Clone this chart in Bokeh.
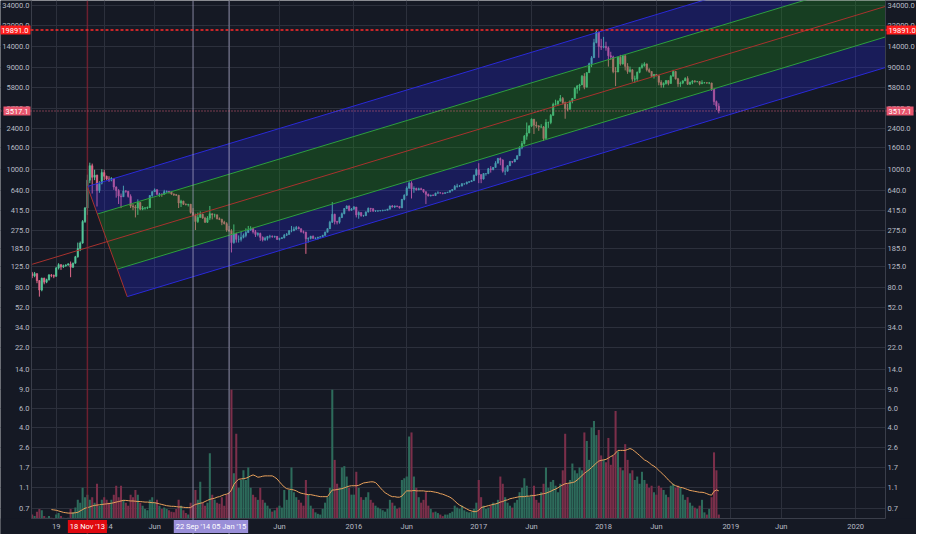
import numpy as np
import pandas as pd
from bokeh.plotting import figure
from bokeh.models import (ColumnDataSource, FixedTicker, PrintfTickFormatter, LogAxis,
                          Span, Label, Range1d, BoxAnnotation)
from bokeh.embed import file_html
from bokeh.resources import INLINE

nan = float("nan")

# ---------------- data (weekly bars, BTCUSD) ----------------
FIRST_WEEK = "2013-06-10"
FIRST_OPEN = 108.0

close_2013 = [103, 108, 93, 76, 98, 90, 95, 105, 104, 102, 122, 131, 125, 128, 130, 133, 124, 135, 155, 185,
              208, 330, 440, 800, 1090, 850, 890, 640, 750, 940]
high_2013 = [112, 112, 109, 94, 99, 99, 97, 107, 107, 106, 125, 135, 132, 131, 132, 135, 140, 137, 158, 210,
             215, 340, 450, 900, 1163, 1140, 1000, 900, 780, 1010]
low_2013 = [98, 100, 88, 66, 74, 86, 88, 93, 100, 98, 101, 118, 117, 122, 125, 128, 100, 122, 134, 152,
            175, 205, 320, 380, 750, 600, 800, 455, 610, 730]

close_2014 = [870, 820, 800, 830, 690, 640, 570, 560, 635, 630, 565, 460, 450, 440, 495, 430, 440,
              440, 445, 575, 625, 650, 590, 595, 590, 625, 630, 620, 595, 585, 580, 490, 510, 478,
              475, 478, 400, 375, 330, 360, 385, 355, 325, 355, 390, 380, 380, 350, 345, 325, 315, 275]
high_2014 = [1000, 880, 870, 850, 830, 700, 660, 600, 710, 645, 630, 590, 480, 470, 530, 500, 460,
             450, 455, 580, 630, 670, 660, 610, 600, 650, 640, 630, 625, 600, 595, 580, 525, 515,
             485, 480, 480, 440, 390, 400, 410, 390, 365, 370, 460, 390, 390, 385, 360, 350, 335, 325]
low_2014 = [800, 800, 770, 780, 650, 550, 480, 440, 560, 610, 550, 440, 420, 360, 380, 420, 420,
            425, 430, 440, 560, 620, 585, 560, 560, 590, 610, 600, 585, 570, 570, 440, 450, 470,
            465, 455, 390, 370, 275, 320, 370, 350, 320, 320, 340, 345, 360, 345, 340, 305, 310, 265]

close_2015 = [270, 210, 255, 225, 225, 235, 245, 260, 275, 285, 265, 250, 255, 235, 223, 230, 240,
              240, 238, 240, 225, 229, 233, 246, 250, 270, 270, 280, 290, 282, 265, 262, 228, 230, 240,
              230, 230, 235, 238, 245, 262, 283, 325, 385, 330, 325, 360, 390, 435, 460, 420, 430]
high_2015 = [300, 280, 310, 260, 245, 265, 255, 285, 300, 298, 290, 275, 262, 260, 240, 238, 242,
             248, 245, 243, 240, 233, 236, 253, 258, 275, 300, 295, 300, 297, 285, 272, 265, 235, 243,
             245, 235, 238, 240, 248, 266, 285, 335, 500, 390, 335, 365, 400, 440, 465, 465, 440]
low_2015 = [265, 170, 205, 210, 210, 215, 230, 235, 260, 270, 255, 237, 240, 218, 215, 218, 220,
            230, 233, 233, 222, 220, 227, 230, 242, 250, 262, 270, 276, 280, 260, 255, 165, 210, 225,
            228, 225, 225, 235, 235, 245, 262, 280, 320, 310, 310, 315, 355, 385, 430, 410, 415]

close_2016 = [450, 380, 400, 375, 375, 405, 438, 433, 413, 415, 415, 417, 420, 420, 430, 460, 450,
              460, 456, 442, 530, 580, 675, 750, 660, 670, 650, 665, 655, 625, 590, 570, 580, 575, 605,
              610, 608, 602, 612, 618, 640, 655, 700, 705, 705, 740, 740, 765, 775, 790, 890, 1000]
high_2016 = [460, 450, 410, 400, 380, 410, 445, 440, 440, 420, 420, 420, 424, 424, 432, 465, 470,
             465, 462, 458, 535, 590, 700, 780, 780, 700, 680, 680, 680, 660, 625, 600, 585, 590, 612,
             630, 615, 610, 615, 622, 645, 660, 720, 740, 720, 750, 745, 775, 780, 800, 900, 1030]
low_2016 = [425, 360, 350, 365, 365, 370, 400, 405, 405, 405, 405, 410, 410, 415, 420, 428, 445,
            440, 448, 435, 440, 520, 570, 660, 540, 610, 640, 645, 650, 610, 480, 565, 565, 570, 570,
            600, 600, 590, 600, 608, 615, 630, 655, 680, 690, 700, 725, 730, 755, 770, 790, 880]

close_2017 = [900, 820, 920, 920, 1020, 1000, 1050, 1150, 1270, 1230, 970, 970, 1090, 1190, 1180, 1250,
              1350, 1600, 1750, 2050, 2200, 2550, 2950, 2600, 2550, 2500, 2500, 1950, 2750, 2750, 3200,
              4050, 4100, 4350, 4600, 4200, 3700, 3650, 4350, 4600, 5700, 6000, 6150, 7400, 5850, 8000,
              9700, 11000, 15200, 19100, 14000, 13800]
high_2017 = [1150, 910, 930, 930, 1040, 1080, 1060, 1200, 1290, 1300, 1250, 1050, 1100, 1210, 1200, 1260,
             1360, 1650, 1850, 2100, 2750, 2600, 3000, 2950, 2800, 2600, 2650, 2550, 2950, 2800, 3300,
             4200, 4480, 4400, 4950, 4750, 4300, 4100, 4400, 4650, 5850, 6150, 6300, 7600, 7900, 8100,
             9900, 11400, 16500, 19891, 19100, 16500]
low_2017 = [750, 750, 810, 880, 910, 940, 990, 1050, 1150, 1100, 940, 890, 960, 1080, 1150, 1180,
            1240, 1340, 1550, 1720, 1900, 2180, 2500, 2150, 2450, 2300, 2450, 1850, 1950, 2450, 2650,
            3200, 3950, 3950, 4300, 4050, 2980, 3500, 3650, 4150, 4600, 5100, 5450, 6150, 5600, 5850,
            8000, 9000, 11000, 15000, 11000, 13000]

close_2018 = [14000, 13600, 11500, 11200, 8200, 8100, 11100, 9650, 11500, 9150, 8200, 8500, 6950,
              7000, 8050, 8950, 9300, 9650, 8500, 8200, 7350, 7700, 7500, 6500, 6150, 6350,
              6750, 6350, 7400, 8200, 7000, 6300, 6400, 6700, 7050, 6250, 6500, 6700, 6600,
              6600, 6300, 6450, 6450, 6400, 6400, 5600, 4300, 3900, 3517.1]
high_2018 = [17200, 15500, 14000, 12500, 11500, 9000, 11300, 11700, 11700, 11600, 9800, 9100, 8600,
             7500, 8200, 9000, 9750, 9990, 9700, 8800, 8200, 7750, 7750, 7500, 6800, 6500,
             6800, 6750, 7600, 8500, 8250, 7150, 6600, 6800, 7250, 7400, 6600, 6800, 6800,
             6700, 6650, 6800, 6550, 6500, 6550, 6450, 5600, 4400, 4150]
low_2018 = [13500, 12800, 9100, 10500, 7900, 6000, 8100, 9300, 9500, 8400, 7800, 8000, 6600,
            6450, 6700, 7900, 8700, 9100, 8200, 7950, 7300, 7050, 7400, 6100, 5800, 5800,
            6200, 6100, 6300, 7400, 6900, 5900, 5900, 6250, 6700, 6150, 6150, 6250, 6450,
            6500, 6100, 6400, 6350, 6300, 6250, 5400, 4000, 3600, 3350]

# volume (read against the price scale of the chart)
vol_2013 = [0.62, 0.6, 0.66, 0.7, 0.68, 0.6, 0.58, 0.6, 0.58, 0.56, 0.62, 0.64, 0.6, 0.58, 0.57, 0.58,
            0.7, 0.65, 0.72, 0.85, 0.8, 1.1, 0.9, 0.95, 0.85, 0.9, 0.8, 1.2, 0.75, 0.85]
vol_2014 = [0.9, 0.85, 0.8, 0.85, 0.95, 1.15, 0.9, 1.15, 0.85, 0.8, 0.75, 0.95, 0.9, 1.05, 0.95, 0.8, 0.75,
            0.7, 0.68, 0.85, 0.9, 0.8, 0.85, 0.75, 0.7, 0.72, 0.7, 0.68, 0.66, 0.65, 0.7, 0.85, 0.75, 0.68,
            0.64, 0.62, 0.8, 0.75, 1.05, 0.85, 1.25, 0.8, 0.75, 0.8, 2.3, 0.95, 0.85, 0.8, 0.78, 0.9, 0.75, 0.95]
vol_2015 = [1.0, 9.0, 1.5, 3.5, 1.1, 1.3, 1.6, 1.3, 1.7, 1.1, 0.95, 0.9, 0.85, 1.1, 0.85, 0.8, 0.75,
            0.7, 0.66, 0.68, 0.72, 0.75, 0.72, 1.05, 0.85, 1.05, 1.7, 1.0, 0.9, 0.85, 0.8, 0.75, 1.3, 0.95, 0.75,
            0.7, 0.65, 0.63, 0.62, 0.7, 0.8, 0.9, 1.1, 9.0, 2.0, 1.2, 1.1, 1.7, 1.75, 1.4, 1.1, 0.95]
vol_2016 = [0.95, 1.55, 1.1, 0.9, 0.85, 0.9, 1.0, 0.85, 0.8, 0.75, 0.72, 0.7, 0.68, 0.66, 0.7, 0.85, 0.8,
            0.75, 0.7, 0.72, 1.3, 1.35, 1.4, 3.3, 3.6, 1.4, 1.1, 0.9, 0.8, 0.85, 1.0, 0.75, 0.7, 0.65, 0.66,
            0.64, 0.62, 0.6, 0.62, 0.62, 0.64, 0.66, 0.75, 0.72, 0.7, 0.75, 0.68, 0.66, 0.65, 0.66, 0.7, 0.8]
vol_2017 = [1.3, 0.9, 0.75, 0.7, 0.72, 0.75, 0.8, 0.78, 0.85, 1.4, 1.2, 0.9, 0.8, 0.75, 0.72, 0.8, 0.85,
            1.0, 1.1, 1.35, 1.15, 0.9, 0.95, 1.15, 0.85, 0.8, 1.0, 1.2, 1.7, 1.1, 1.25, 1.3, 1.15, 1.0, 1.2,
            1.6, 3.5, 1.2, 1.3, 1.85, 1.6, 1.5, 1.7, 1.6, 3.6, 3.0, 2.0, 4.0, 4.6, 3.4, 3.8, 2.2]
vol_2018 = [2.0, 1.9, 3.2, 1.8, 2.2, 5.7, 2.4, 1.7, 1.6, 2.8, 2.0, 1.5, 1.6, 1.3, 1.4, 1.2, 1.55, 1.3,
            1.2, 1.1, 1.15, 1.0, 0.95, 1.15, 1.1, 1.05, 0.95, 0.9, 1.15, 1.2, 1.1, 1.15, 1.1, 0.95, 0.85,
            0.9, 0.8, 0.75, 0.72, 0.7, 0.75, 0.85, 0.65, 0.62, 0.7, 0.9, 2.35, 1.6, 0.62]

# volume moving average (orange line)
vma_2013 = [nan, nan, nan, nan, nan, nan, nan, nan, 0.69, 0.685, 0.68, 0.67, 0.66, 0.65, 0.645, 0.64,
            0.64, 0.64, 0.645, 0.65, 0.67, 0.69, 0.71, 0.72, 0.73, 0.745, 0.755, 0.76, 0.765, 0.77]
vma_2014 = [0.775, 0.78, 0.785, 0.79, 0.80, 0.81, 0.82, 0.83, 0.84, 0.84, 0.835, 0.83, 0.83, 0.825, 0.82,
            0.82, 0.815, 0.81, 0.81, 0.805, 0.80, 0.80, 0.79, 0.78, 0.77, 0.76, 0.75, 0.745, 0.74, 0.74,
            0.735, 0.73, 0.73, 0.725, 0.72, 0.72, 0.72, 0.75, 0.77, 0.78, 0.79, 0.80, 0.82, 0.84, 0.86,
            0.87, 0.88, 0.90, 0.91, 0.93, 0.95, 0.96]
vma_2015 = [0.98, 1.05, 1.18, 1.26, 1.32, 1.33, 1.34, 1.35, 1.38, 1.42, 1.45, 1.42, 1.38, 1.39, 1.41,
            1.42, 1.42, 1.42, 1.42, 1.38, 1.33, 1.25, 1.18, 1.12, 1.08, 1.07, 1.06, 1.05, 1.03, 1.0, 0.98,
            0.97, 0.96, 0.95, 0.95, 0.94, 0.93, 0.92, 0.91, 0.91, 0.91, 0.91, 0.98, 1.05, 1.05, 1.06,
            1.07, 1.08, 1.1, 1.12, 1.14, 1.15]
vma_2016 = [1.15, 1.15, 1.16, 1.19, 1.22, 1.23, 1.24, 1.25, 1.25, 1.23, 1.17, 1.1, 1.04, 0.99, 0.96,
            0.93, 0.91, 0.91, 0.90, 0.90, 0.92, 0.98, 1.03, 1.03, 1.03, 1.04, 1.03, 1.03, 1.03, 1.03,
            1.02, 1.02, 1.02, 1.01, 1.0, 0.99, 0.97, 0.96, 0.94, 0.92, 0.9, 0.87, 0.83, 0.79, 0.76,
            0.74, 0.72, 0.70, 0.68, 0.67, 0.66, 0.66]
vma_2017 = [0.68, 0.72, 0.73, 0.74, 0.75, 0.76, 0.77, 0.78, 0.79, 0.81, 0.82, 0.84, 0.85, 0.87, 0.88,
            0.89, 0.90, 0.91, 0.91, 0.91, 0.92, 0.92, 0.93, 0.93, 0.94, 0.95, 0.96, 0.97, 0.98, 1.0,
            1.02, 1.05, 1.07, 1.1, 1.14, 1.17, 1.2, 1.21, 1.22, 1.23, 1.25, 1.3, 1.36, 1.43, 1.5, 1.56,
            1.62, 1.7, 1.78, 1.87, 1.95, 1.98]
vma_2018 = [2.0, 2.02, 2.08, 2.15, 2.2, 2.32, 2.45, 2.45, 2.45, 2.45, 2.5, 2.55, 2.5, 2.4, 2.3, 2.2,
            2.1, 2.0, 1.95, 1.88, 1.8, 1.75, 1.68, 1.6, 1.52, 1.45, 1.38, 1.3, 1.24, 1.18, 1.15, 1.13,
            1.11, 1.1, 1.08, 1.06, 1.04, 1.03, 1.02, 1.01, 1.0, 1.0, 0.99, 0.97, 0.95, 0.94, 1.02, 1.05, 1.03]

# axes
x_tick_dates = ["2013-08-19", "2014-01-06", "2014-06-02", "2015-01-05", "2015-06-01", "2016-01-04",
                "2016-06-06", "2017-01-02", "2017-06-05", "2018-01-01", "2018-06-04", "2019-01-07",
                "2019-06-03", "2020-01-06"]
x_tick_labels = ["19", "2014", "Jun", "2015", "Jun", "2016", "Jun", "2017", "Jun", "2018", "Jun", "2019",
                 "Jun", "2020"]
y_ticks = [0.7, 1.1, 1.7, 2.6, 4.0, 6.0, 9.0, 14, 22, 34, 52, 80, 125, 185, 275, 415, 640, 1000, 1600,
           2400, 3700, 5800, 9000, 14000, 22000, 34000]
X_START, X_END = "2013-06-08", "2020-04-02"
Y_MIN, Y_MAX = 0.57, 37500

# drawings
pitchfork_dates = ["2013-06-10", "2013-11-18", "2014-03-14"]   # pivot A, B, C
pitchfork_prices = [132, 698, 66]
price_lines = [19891.0, 3517.1]
marker_dates = ["2013-11-18", "2014-09-22", "2015-01-05"]
marker_texts = ["18 Nov '13", "22 Sep '14", "05 Jan '15"]

# ---------------- layout (pixels) ----------------
W, H = 916, 534
LEFT_ZONE, RIGHT_ZONE, BOTTOM_ZONE = 31, 31, 16

BG = "#151924"
GRID = "#2c303c"
TXT = "#b8bbc4"
FONT = "Roboto"
FSIZE = "7.5px"
UP, DOWN = "#55c79a", "#e0698a"
VUP, VDOWN = "#2d6b5b", "#7b2f4a"
DAY = 86400000


def ms(d):
    return int(pd.Timestamp(d).value // 10**6)


x0, x1 = ms(X_START), ms(X_END)
plot_w = W - LEFT_ZONE - RIGHT_ZONE
per_px = (x1 - x0) / plot_w
xr0, xr1 = x0 - LEFT_ZONE * per_px, x1 + RIGHT_ZONE * per_px
dec_per_px = np.log10(Y_MAX / Y_MIN) / (H - BOTTOM_ZONE)
yr0 = Y_MIN / 10 ** (BOTTOM_ZONE * dec_per_px)
y_tag = Y_MIN / 10 ** (BOTTOM_ZONE * dec_per_px / 2)

closes = np.array(close_2013 + close_2014 + close_2015 + close_2016 + close_2017 + close_2018, float)
highs = np.array(high_2013 + high_2014 + high_2015 + high_2016 + high_2017 + high_2018, float)
lows = np.array(low_2013 + low_2014 + low_2015 + low_2016 + low_2017 + low_2018, float)
vols = np.array(vol_2013 + vol_2014 + vol_2015 + vol_2016 + vol_2017 + vol_2018, float)
vmas = np.array(vma_2013 + vma_2014 + vma_2015 + vma_2016 + vma_2017 + vma_2018, float)
n = len(closes)
opens = np.concatenate([[FIRST_OPEN], closes[:-1]])
highs = np.maximum(highs, np.maximum(opens, closes))
lows = np.minimum(lows, np.minimum(opens, closes))
dates = pd.date_range(FIRST_WEEK, periods=n, freq="7D")
xs = dates.asi8 // 10**6
up = closes >= opens

src = ColumnDataSource(dict(
    x=xs, open=opens, close=closes, high=highs, low=lows,
    top=np.maximum(opens, closes), bottom=np.minimum(opens, closes),
    color=np.where(up, UP, DOWN), vcolor=np.where(up, VUP, VDOWN),
    vol=vols[:n], vma=vmas[:n]))

p = figure(width=W, height=H, x_range=Range1d(xr0, xr1), y_range=Range1d(yr0, Y_MAX),
           y_axis_type="log", output_backend="svg", toolbar_location=None,
           background_fill_color=BG, border_fill_color=BG, min_border=0,
           min_border_left=0, min_border_right=0, min_border_top=0, min_border_bottom=0)
p.outline_line_color = None

# axes pinned to the edges of the price area (drawn inside the canvas)
p.xaxis.fixed_location = Y_MIN
p.yaxis.fixed_location = x0
right_axis = LogAxis(fixed_location=x1)
p.add_layout(right_axis, "right")

p.yaxis.ticker = FixedTicker(ticks=y_ticks)
p.yaxis.formatter = PrintfTickFormatter(format="%.1f")
p.yaxis.bounds = (Y_MIN, Y_MAX)
x_tick_ms = [ms(d) for d in x_tick_dates]
p.xaxis.ticker = FixedTicker(ticks=x_tick_ms)
p.xaxis.major_label_overrides = {t: l for t, l in zip(x_tick_ms, x_tick_labels)}
p.xaxis.bounds = (x0, x1)

for ax in list(p.yaxis) + list(p.xaxis):
    ax.major_label_text_font = FONT
    ax.major_label_text_font_size = FSIZE
    ax.major_label_text_color = TXT
    ax.major_tick_line_color = None
    ax.minor_tick_line_color = None
    ax.major_tick_in = 0
    ax.major_tick_out = 0
    ax.minor_tick_in = 0
    ax.minor_tick_out = 0
    ax.axis_line_color = "#3a3e4a"
    ax.major_label_standoff = 2
p.xaxis.major_label_standoff = 3

p.xgrid.grid_line_color = GRID
p.ygrid.grid_line_color = GRID
# keep the label margins clean of grid lines
for l, r, b, t in [(xr0, x0, yr0, Y_MAX), (x1, xr1, yr0, Y_MAX), (xr0, xr1, yr0, Y_MIN)]:
    p.add_layout(BoxAnnotation(left=l, right=r, bottom=b, top=t, fill_color=BG, fill_alpha=1,
                               line_color=None, level="underlay"))

# volume + MA
p.vbar(x="x", width=6 * DAY, top="vol", bottom=Y_MIN, fill_color="vcolor", line_color=None, source=src)
p.line(x="x", y="vma", color="#e9a15c", line_width=1, source=src)

# candles
p.segment(x0="x", y0="high", x1="x", y1="low", color="color", line_width=1, source=src)
p.vbar(x="x", width=4 * DAY, top="top", bottom="bottom", fill_color="color", line_color="color",
       line_width=0.6, source=src)

# pitchfork
tA, tB, tC = [ms(d) for d in pitchfork_dates]
lA, lB, lC = np.log10(pitchfork_prices)
tM, lM = (tB + tC) / 2, (lB + lC) / 2
slope = (lM - lA) / (tM - tA)
tE = x1


def level(k):
    t0 = tM + k * (tB - tM)
    l0 = lM + k * (lB - lM)
    return t0, l0, tE, l0 + slope * (tE - t0)


def band(k1, k2, color, alpha):
    a0, al0, a1, al1 = level(k1)
    b0, bl0, b1, bl1 = level(k2)
    p.patch([a0, a1, b1, b0], [10 ** al0, 10 ** al1, 10 ** bl1, 10 ** bl0],
            fill_color=color, fill_alpha=alpha, line_color=None)


band(1, 0.5, "#2424e8", 0.27)
band(0.5, -0.5, "#1e961e", 0.3)
band(-0.5, -1, "#2424e8", 0.27)
for k, c in [(1, "#2a2ad8"), (-1, "#2a2ad8"), (0.5, "#2e9e3e"), (-0.5, "#2e9e3e")]:
    t0, l0, t1, l1 = level(k)
    p.line([t0, t1], [10 ** l0, 10 ** l1], color=c, line_width=1)
p.line([tA, tE], [10 ** lA, 10 ** (lA + slope * (tE - tA))], color="#a8322e", line_width=1)
p.line([tB, tC], [10 ** lB, 10 ** lC], color="#a8322e", line_width=1)

# marker lines
p.add_layout(Span(location=ms(marker_dates[0]), dimension="height", line_color="#8a2233",
                  line_alpha=0.75, line_width=1.5))
for d in marker_dates[1:]:
    p.add_layout(Span(location=ms(d), dimension="height", line_color="#a9a6c6",
                      line_alpha=0.75, line_width=1))
p.add_layout(Span(location=price_lines[0], dimension="width", line_color="#ff2a2a",
                  line_dash="3 2", line_width=1.5))
p.add_layout(Span(location=price_lines[1], dimension="width", line_color="#e0607a",
                  line_dash="1 2", line_width=1))


def tag(text, bg, **kw):
    p.add_layout(Label(text=text, text_color="white", text_font=FONT, text_font_size=FSIZE,
                       background_fill_color=bg, background_fill_alpha=1, padding=2, **kw))


for val, bg in [(price_lines[0], "#ff1e1e"), (price_lines[1], "#e8566e")]:
    txt = "%.1f" % val
    tag(txt, bg, x=x0, y=val, x_offset=-1, text_align="right", text_baseline="middle")
    tag(txt, bg, x=x1, y=val, x_offset=1, text_align="left", text_baseline="middle")

for d, t, bg in zip(marker_dates, marker_texts, ["#e0090f", "#9a8fd8", "#9a8fd8"]):
    tag(t, bg, x=ms(d), y=y_tag, text_align="center", text_baseline="middle")

open("out.html", "w").write(file_html(p, INLINE))
